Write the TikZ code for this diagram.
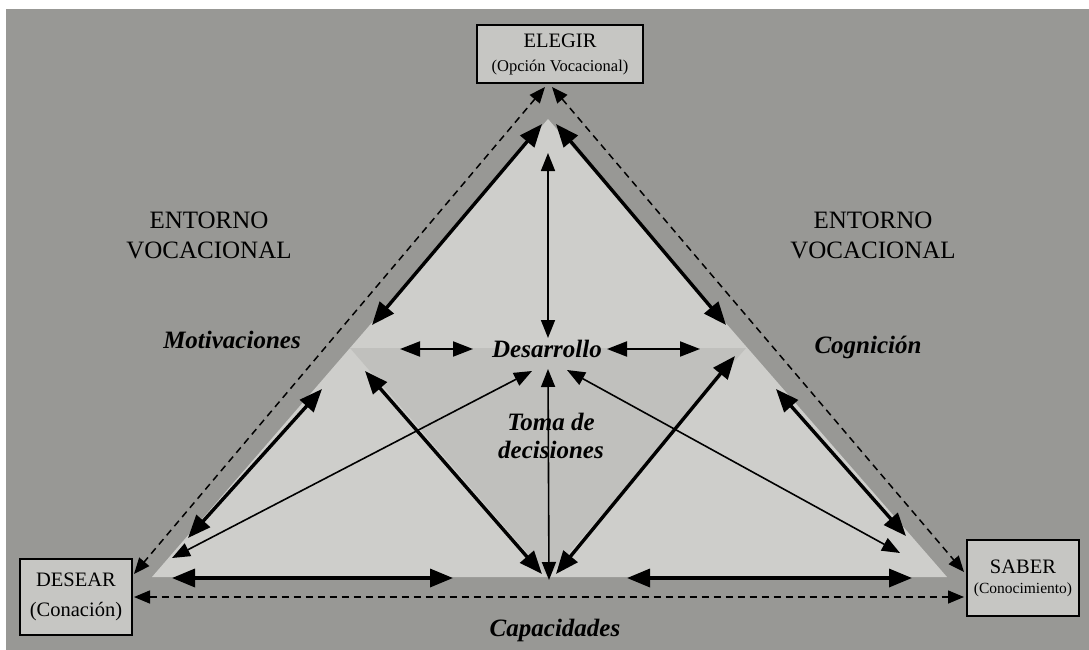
\documentclass[tikz,border=0pt]{standalone}
\usepackage{fontspec}
\setmainfont{Liberation Serif}
\usetikzlibrary{arrows.meta, positioning}
\definecolor{paper}{RGB}{152,152,149}
\definecolor{lightzone}{RGB}{206,206,203}
\definecolor{midzone}{RGB}{192,192,189}
\definecolor{boxfill}{RGB}{198,198,195}

\begin{document}
\begin{tikzpicture}[x=1pt, y=-1pt,
        vocbox/.style={rectangle, draw, line width=1.3pt, fill=boxfill, align=center, inner sep=0pt},
        envtext/.style={align=center, font=\fontsize{25}{30}\selectfont},
        keytext/.style={font=\fontsize{25}{28}\selectfont\bfseries\itshape, align=center, inner sep=0pt},
        heavy/.style={{Triangle[length=23pt,width=18pt]}-{Triangle[length=23pt,width=18pt]}, line width=3.4pt},
        medium/.style={{Triangle[length=20pt,width=15pt]}-{Triangle[length=20pt,width=15pt]}, line width=2pt},
        light/.style={{Triangle[length=18pt,width=14pt]}-{Triangle[length=18pt,width=14pt]}, line width=1.6pt},
        outer/.style={{Triangle[length=16pt,width=13pt]}-{Triangle[length=16pt,width=13pt]}, line width=1.5pt, dash pattern=on 7pt off 5pt},
    ]

\useasboundingbox (0,0) rectangle (1089,650);
\fill[white] (0,0) rectangle (1089,650);
\fill[paper] (6,9) rectangle (1089,650);
\fill[lightzone] (548,119) -- (152,577) -- (947,577) -- cycle;
\fill[midzone] (350,348) -- (746,348) -- (548,577) -- cycle;

\node[vocbox, minimum width=166pt, minimum height=58pt, font=\fontsize{20.5}{24}\selectfont] (Elegir) at (560,54) {ELEGIR\\{\fontsize{16.5}{24}\selectfont (Opción Vocacional)}};
\node[vocbox, minimum width=112pt, minimum height=76pt, font=\fontsize{20.5}{30}\selectfont] (Desear) at (76,597) {DESEAR\\(Conación)};
\node[vocbox, minimum width=112pt, minimum height=76pt, font=\fontsize{20.5}{20}\selectfont] (Saber) at (1023,578) {SABER\\{\fontsize{15.5}{20}\selectfont (Conocimiento)}};

\node[envtext] (EntornoL) at (209,235) {ENTORNO\\VOCACIONAL};
\node[envtext] (EntornoR) at (873,235) {ENTORNO\\VOCACIONAL};

\node[keytext, anchor=base] (Motivaciones) at (232,348) {Motivaciones};
\node[keytext, anchor=base] (Cognicion) at (868,353) {Cognición};
\node[keytext, anchor=base] (Desarrollo) at (547,357) {Desarrollo};
\node[keytext] (TomaDecisiones) at (551,436) {Toma de\\decisiones};
\node[keytext, anchor=base] (Capacidades) at (555,636) {Capacidades};

\coordinate (ApexDashL) at (545,87);
\coordinate (ApexDashR) at (552,87);
\coordinate (DesearDash) at (134,574);
\coordinate (SaberDash) at (964,572);
\coordinate (DesearBase) at (134,597);
\coordinate (SaberBase) at (964,597);
\draw[outer] (ApexDashL) -- (DesearDash);
\draw[outer] (ApexDashR) -- (SaberDash);
\draw[outer] (DesearBase) -- (SaberBase);

\coordinate (ApexL) at (542,124);
\coordinate (ApexR) at (556,124);
\coordinate (MotivL) at (372,325);
\coordinate (CognR) at (726,325);
\draw[heavy] (ApexL) -- (MotivL);
\draw[heavy] (ApexR) -- (CognR);

\coordinate (SideL) at (322,389);
\coordinate (SideR) at (776,389);
\coordinate (CornerL) at (188,538);
\coordinate (CornerR) at (906,536);
\draw[heavy] (SideL) -- (CornerL);
\draw[heavy] (SideR) -- (CornerR);

\coordinate (BaseL) at (172,578);
\coordinate (CapL) at (453,578);
\coordinate (CapR) at (627,578);
\coordinate (BaseR) at (912,578);
\draw[heavy] (BaseL) -- (CapL);
\draw[heavy] (CapR) -- (BaseR);

\coordinate (BottomL) at (542,574);
\coordinate (BottomC) at (549,580);
\coordinate (BottomR) at (556,574);
\coordinate (InnerL) at (365,371);
\coordinate (InnerR) at (735,356);
\draw[heavy] (BottomL) -- (InnerL);
\draw[heavy] (BottomR) -- (InnerR);

\coordinate (DesTop) at (548,153);
\coordinate (DesN) at (548,338);
\coordinate (DesS) at (548,369);
\draw[light] (DesTop) -- (DesN);
\draw[light] (BottomC) -- (DesS);

\coordinate (HorL1) at (400,349);
\coordinate (HorL2) at (473,349);
\coordinate (HorR1) at (607,349);
\coordinate (HorR2) at (700,349);
\draw[medium] (HorL1) -- (HorL2);
\draw[medium] (HorR1) -- (HorR2);

\coordinate (ThinL) at (172,558);
\coordinate (DesSW) at (532,371);
\coordinate (ThinR) at (900,553);
\coordinate (DesSE) at (567,370);
\draw[light] (ThinL) -- (DesSW);
\draw[light] (ThinR) -- (DesSE);
\end{tikzpicture}
\end{document}
